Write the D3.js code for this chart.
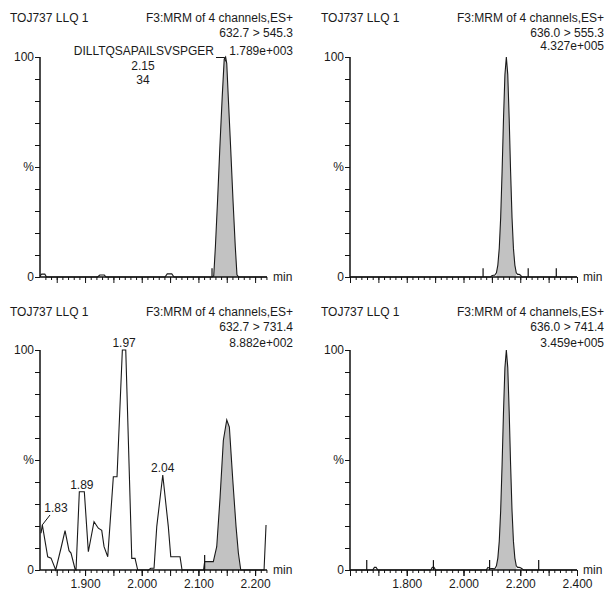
<!DOCTYPE html>
<html><head><meta charset="utf-8">
<script src="https://cdn.jsdelivr.net/npm/d3@7"></script>
<style>
body{margin:0;background:#fff}
svg{display:block}
text{font-family:"Liberation Sans",Arial,sans-serif;font-size:12px;fill:#1a1a1a}
</style>
</head><body>
<svg id="c" width="606" height="590"></svg>
<script>
// ---------------- DATA ----------------
const sampleName = "TOJ737 LLQ 1";
const functionName = "F3:MRM of 4 channels,ES+";
const transitions = ["632.7 > 545.3", "636.0 > 555.3", "632.7 > 731.4", "636.0 > 741.4"];
const intensities = ["1.789e+003", "4.327e+005", "8.882e+002", "3.459e+005"];
const compoundName = "DILLTQSAPAILSVSPGER";
const compoundRT = "2.15";
const compoundArea = "34";
const yTickLabels = [["0", 0], ["%", 50], ["100", 100]];
const leftXLabels = [1.9, 2.0, 2.1, 2.2];
const rightXLabels = [1.8, 2.0, 2.2, 2.4];

// panel 1: 632.7 > 545.3 (time, %)
const p1Time = [1.8205, 1.8235, 1.829, 1.832, 1.922, 1.926, 1.934, 1.937, 2.041, 2.045, 2.053, 2.057,
  2.124, 2.127, 2.130, 2.134, 2.138, 2.142, 2.1455, 2.148, 2.150, 2.153, 2.157, 2.161, 2.165, 2.168, 2.171, 2.221];
const p1Val = [0.5, 1.3, 1.3, 0, 0, 0.9, 0.9, 0, 0, 1.4, 1.4, 0,
  0, 0.5, 14, 36, 60, 82, 99, 100, 97, 80, 58, 35, 14, 1, 0, 0];
const p1Fill = [2.127, 2.168];
const p1Markers = [2.124];
const p1MarkerH = [4];

// panel 2: 636.0 > 555.3
const p2Time = [1.6, 2.095, 2.100, 2.105, 2.110, 2.116, 2.121, 2.126, 2.131, 2.136, 2.141, 2.146, 2.151,
  2.156, 2.161, 2.166, 2.171, 2.176, 2.181, 2.186, 2.191, 2.196, 2.201, 2.206, 2.4];
const p2Val = [0, 0, 0.6, 0.8, 0.8, 1.9, 5.4, 13, 27, 48, 72, 92, 100,
  92, 72, 48, 27, 13, 5.4, 1.9, 1.2, 1.2, 0.8, 0, 0];
const p2Fill = [2.116, 2.186];
const p2Markers = [2.069, 2.228, 2.327];
const p2MarkerH = [4, 4, 4];

// panel 3: 632.7 > 731.4
const p3Time = [1.8223, 1.8246, 1.8341, 1.840, 1.8482, 1.8576, 1.8647, 1.8717, 1.8752, 1.8823, 1.8841,
  1.8899, 1.8987, 1.9058, 1.9158, 1.9234, 1.9294, 1.9335, 1.940, 1.9499, 1.9564, 1.9658, 1.9718,
  1.9824, 1.9882, 1.9929, 2.012, 2.016, 2.0217, 2.0265, 2.0371, 2.0469, 2.0512, 2.0558, 2.0676,
  2.0711, 2.109, 2.111, 2.1263, 2.1323, 2.1382, 2.144, 2.150, 2.1546, 2.1606, 2.1664, 2.1705,
  2.1747, 2.2158, 2.2193];
const p3Val = [16.7, 20.5, 6, 5.4, 0, 10, 17.9, 8.8, 7.7, 0.5, 0,
  35.6, 35.6, 8.3, 22, 19, 18, 10.6, 6, 42.4, 42.4, 100, 100,
  5.3, 5.3, 0, 0, 0.8, 0.8, 19.7, 43.2, 19.7, 6, 6, 6,
  0, 0, 3.8, 3.8, 10.6, 33, 59, 68.2, 65, 41, 19.7, 7.7,
  0, 0, 20.5];
const p3Fill = [2.111, 2.1747];
const p3Markers = [2.111];
const p3MarkerH = [6.8];
const p3PeakLabels = [["1.83", 1.8246, 20.5], ["1.89", 1.8943, 35.6], ["1.97", 1.9688, 100], ["2.04", 2.0371, 43.2]];

// panel 4: 636.0 > 741.4
const p4Time = [1.6, 1.680, 1.686, 1.692, 1.698, 1.885, 1.890, 1.896, 1.902, 2.080, 2.086, 2.092,
  2.110, 2.116, 2.121, 2.126, 2.131, 2.136, 2.141, 2.146, 2.151, 2.156, 2.161, 2.166, 2.171, 2.176,
  2.181, 2.186, 2.191, 2.196, 2.201, 2.206, 2.212, 2.4];
const p4Val = [0, 0, 1.2, 1.2, 0, 0, 1.2, 1.2, 0, 0, 1.2, 0.8,
  0.5, 1.9, 5.4, 13, 27, 48, 72, 92, 100, 92, 72, 48, 27, 13,
  5.4, 1.9, 1.2, 1.2, 1.0, 0.6, 0, 0];
const p4Fill = [2.116, 2.186];
const p4Markers = [1.659, 1.894, 2.092, 2.265];
const p4MarkerH = [4.5, 4.5, 4.5, 4.5];

// ---------------- LAYOUT ----------------
const svg = d3.select("#c");
const panels = [
  {t: p1Time, v: p1Val, fill: p1Fill, mk: p1Markers, mh: p1MarkerH, x0: 40, x1: 267, y0: 277, y1: 57,
   dom: [1.8205, 2.221], minor: 0.01, major: 0.05, labels: null, tx: 10, rx: 293, hy: 22, l3y: 55, idx: 0},
  {t: p2Time, v: p2Val, fill: p2Fill, mk: p2Markers, mh: p2MarkerH, x0: 350, x1: 577, y0: 277, y1: 57,
   dom: [1.6, 2.4], minor: 0.02, major: 0.1, labels: null, tx: 321, rx: 604, hy: 22, l3y: 50, idx: 1},
  {t: p3Time, v: p3Val, fill: p3Fill, mk: p3Markers, mh: p3MarkerH, x0: 40, x1: 267, y0: 570, y1: 350,
   dom: [1.8205, 2.221], minor: 0.01, major: 0.05, labels: leftXLabels, tx: 10, rx: 293, hy: 316, l3y: 347, idx: 2},
  {t: p4Time, v: p4Val, fill: p4Fill, mk: p4Markers, mh: p4MarkerH, x0: 350, x1: 577, y0: 570, y1: 350,
   dom: [1.6, 2.4], minor: 0.02, major: 0.1, labels: rightXLabels, tx: 321, rx: 604, hy: 316, l3y: 347, idx: 3}
];

function rangeTicks(a, b, step) {
  const out = [];
  const s = Math.ceil(a / step - 1e-6), e = Math.floor(b / step + 1e-6);
  for (let i = s; i <= e; i++) out.push(+(i * step).toFixed(4));
  return out;
}

panels.forEach(p => {
  const g = svg.append("g");
  const x = d3.scaleLinear().domain(p.dom).range([p.x0, p.x1]);
  const y = d3.scaleLinear().domain([0, 100]).range([p.y0, p.y1]);
  const pts = p.t.map((t, i) => [t, p.v[i]]);

  // fill
  const fpts = pts.filter(d => d[0] >= p.fill[0] - 1e-9 && d[0] <= p.fill[1] + 1e-9);
  g.append("path").datum(fpts)
    .attr("d", d3.area().x(d => x(d[0])).y0(y(0)).y1(d => y(d[1])))
    .attr("fill", "#c2c2c2").attr("stroke", "none");

  // trace
  g.append("path").datum(pts)
    .attr("d", d3.line().x(d => x(d[0])).y(d => y(d[1])))
    .attr("fill", "none").attr("stroke", "#1a1a1a").attr("stroke-width", 1.1);

  // integration markers
  p.mk.forEach((m, i) => {
    g.append("line").attr("x1", x(m)).attr("x2", x(m)).attr("y1", y(0)).attr("y2", y(p.mh[i]))
      .attr("stroke", "#111").attr("stroke-width", 1.2);
  });

  // x axis ticks
  const minors = rangeTicks(p.dom[0], p.dom[1], p.minor);
  const majors = rangeTicks(p.dom[0], p.dom[1], p.major);
  const ax = g.append("g").attr("transform", `translate(0,${p.y0})`);
  ax.call(d3.axisBottom(x).tickValues(minors).tickSize(3).tickFormat(""));
  ax.select(".domain").remove();
  const ax2 = g.append("g").attr("transform", `translate(0,${p.y0})`);
  ax2.call(d3.axisBottom(x).tickValues(majors).tickSize(6).tickFormat(""));
  ax2.select(".domain").remove();
  g.selectAll(".tick line").attr("stroke", "#111");
  if (p.labels) {
    const al = g.append("g").attr("transform", `translate(0,${p.y0})`);
    al.call(d3.axisBottom(x).tickValues(p.labels).tickSize(6).tickPadding(3).tickFormat(d3.format(".3f")));
    al.select(".domain").remove();
    al.selectAll("text").attr("font-size", 12).attr("font-family", '"Liberation Sans",Arial,sans-serif').attr("fill", "#1a1a1a");
    al.selectAll("line").attr("stroke", "#111");
  }
  g.append("line").attr("x1", p.x0).attr("x2", p.x1).attr("y1", p.y0).attr("y2", p.y0)
    .attr("stroke", "#111").attr("stroke-width", 1.5);
  g.append("text").attr("x", p.x1 + 6).attr("y", p.y0 + 4).text("min");

  // y axis
  const ay = g.append("g").attr("transform", `translate(${p.x0},0)`);
  ay.call(d3.axisLeft(y).tickValues(d3.range(0, 101, 10)).tickSize(5).tickFormat(""));
  ay.select(".domain").remove();
  ay.selectAll("line").attr("stroke", "#111");
  g.append("line").attr("x1", p.x0).attr("x2", p.x0).attr("y1", p.y0).attr("y2", p.y1)
    .attr("stroke", "#111").attr("stroke-width", 1.5);
  yTickLabels.forEach(([lab, v]) => {
    g.append("text").attr("x", p.x0 - 6).attr("y", y(v) + 4).attr("text-anchor", "end").text(lab);
  });

  // header
  g.append("text").attr("x", p.tx).attr("y", p.hy).text(sampleName);
  g.append("text").attr("x", p.rx).attr("y", p.hy).attr("text-anchor", "end").text(functionName);
  g.append("text").attr("x", p.rx).attr("y", p.hy + 15).attr("text-anchor", "end").text(transitions[p.idx]);
  g.append("text").attr("x", p.rx).attr("y", p.l3y).attr("text-anchor", "end").text(intensities[p.idx]);

  p.x = x; p.y = y;
});

// compound annotation (panel 1)
{
  const p = panels[0];
  const apexT = 2.148;
  svg.append("text").attr("x", 214).attr("y", 55).attr("text-anchor", "end").text(compoundName);
  svg.append("text").attr("x", 143).attr("y", 70).attr("text-anchor", "middle").text(compoundRT);
  svg.append("text").attr("x", 143).attr("y", 84).attr("text-anchor", "middle").text(compoundArea);
  svg.append("path").attr("d", `M216,${p.y(100) + 0.5}H${p.x(apexT) - 1}L${p.x(apexT)},${p.y(98)}`)
    .attr("fill", "none").attr("stroke", "#111").attr("stroke-width", 1);
}

// peak labels (panel 3)
{
  const p = panels[2];
  p3PeakLabels.forEach(([lab, t, v], i) => {
    if (i === 0) {
      svg.append("text").attr("x", 56).attr("y", 512).attr("text-anchor", "middle").attr("fill", "#23284a").text(lab);
      svg.append("line").attr("x1", p.x(t)).attr("y1", p.y(v)).attr("x2", 50).attr("y2", 515)
        .attr("stroke", "#111").attr("stroke-width", 1);
    } else {
      svg.append("text").attr("x", p.x(t)).attr("y", p.y(v) - 3).attr("text-anchor", "middle").attr("fill", "#23284a").text(lab);
    }
  });
}
</script>
</body></html>
